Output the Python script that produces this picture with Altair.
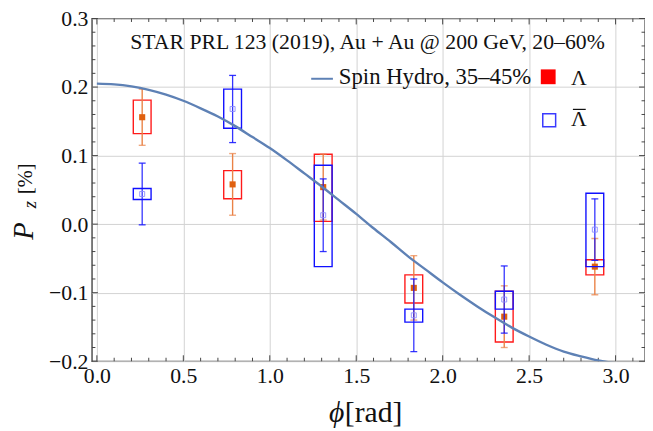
import math
import altair as alt
import pandas as pd

# ---------------- data ----------------
phi = [0.262, 0.785, 1.309, 1.833, 2.356, 2.880]

lam_y = [0.156, 0.058, 0.054, -0.093, -0.135, -0.062]
lam_stat = [0.041, 0.045, 0.048, 0.047, 0.045, 0.041]
lam_sys_lo = [0.132, 0.037, 0.004, -0.115, -0.172, -0.074]
lam_sys_hi = [0.181, 0.078, 0.102, -0.074, -0.098, -0.052]

alam_y = [0.044, 0.168, 0.013, -0.133, -0.110, -0.008]
alam_stat = [0.045, 0.049, 0.053, 0.053, 0.049, 0.045]
alam_sys_lo = [0.036, 0.140, -0.062, -0.143, -0.124, -0.062]
alam_sys_hi = [0.052, 0.197, 0.086, -0.124, -0.098, 0.045]

curve_x = [0.0, 0.1, 0.2, 0.3, 0.4, 0.5, 0.6, 0.7, 0.8, 0.9, 1.0, 1.1, 1.2, 1.3,
           1.4, 1.5, 1.6, 1.7, 1.8, 1.9, 2.0, 2.1, 2.2, 2.3, 2.4, 2.5, 2.6, 2.7,
           2.8, 2.9, 3.0, 3.1, 3.1416]
curve_y = [0.205, 0.204, 0.201, 0.196, 0.189, 0.180, 0.169, 0.157, 0.143, 0.127,
           0.111, 0.093, 0.074, 0.055, 0.035, 0.015, -0.006, -0.026, -0.047, -0.066,
           -0.085, -0.103, -0.120, -0.136, -0.151, -0.164, -0.176, -0.186, -0.193,
           -0.199, -0.203, -0.205, -0.205]

x_major = [0.0, 0.5, 1.0, 1.5, 2.0, 2.5, 3.0]
x_minor = [0.1, 0.2, 0.3, 0.4, 0.6, 0.7, 0.8, 0.9, 1.1, 1.2, 1.3, 1.4, 1.6, 1.7,
           1.8, 1.9, 2.1, 2.2, 2.3, 2.4, 2.6, 2.7, 2.8, 2.9, 3.1]
y_major = [-0.2, -0.1, 0.0, 0.1, 0.2, 0.3]
y_minor = [-0.18, -0.16, -0.14, -0.12, -0.08, -0.06, -0.04, -0.02,
           0.02, 0.04, 0.06, 0.08, 0.12, 0.14, 0.16, 0.18, 0.22, 0.24, 0.26, 0.28]

title_text = "STAR PRL 123 (2019), Au + Au @ 200 GeV, 20–60%"
curve_label = "Spin Hydro, 35–45%"
lam_label = "Λ"

# ---------------- tables ----------------
lam = pd.DataFrame({"phi": phi, "y": lam_y, "lo": lam_sys_lo, "hi": lam_sys_hi,
                    "elo": [a - b for a, b in zip(lam_y, lam_stat)],
                    "ehi": [a + b for a, b in zip(lam_y, lam_stat)]})
alam = pd.DataFrame({"phi": phi, "y": alam_y, "lo": alam_sys_lo, "hi": alam_sys_hi,
                     "elo": [a - b for a, b in zip(alam_y, alam_stat)],
                     "ehi": [a + b for a, b in zip(alam_y, alam_stat)]})
lam_caps = pd.DataFrame({"phi": phi + phi, "y": list(lam.elo) + list(lam.ehi)})
alam_caps = pd.DataFrame({"phi": phi + phi, "y": list(alam.elo) + list(alam.ehi)})
curve = pd.DataFrame({"phi": curve_x, "y": curve_y})
one = pd.DataFrame({"k": [0]})

W, H = 560, 347
FONT = "Liberation Serif"
FRAME = "#444444"

xs = alt.Scale(domain=[0, math.pi], nice=False, zero=False)
ys = alt.Scale(domain=[-0.2, 0.3], nice=False, zero=False)

x_lab = alt.Axis(orient="bottom", values=x_major, format=".1f", grid=True,
                 gridColor="#d2d2d2", gridWidth=1, ticks=False, domain=False,
                 labelFont=FONT, labelFontSize=22, labelColor="#111111",
                 labelPadding=5, labelFlush=False, labelOverlap=False, title=None)
y_lab = alt.Axis(orient="left", values=y_major, format=".1f", grid=True,
                 gridColor="#d2d2d2", gridWidth=1, ticks=False, domain=False,
                 labelFont=FONT, labelFontSize=22, labelColor="#111111",
                 labelPadding=4, labelFlush=False, labelOverlap=False, title=None)


def X(field, axis=None):
    return alt.X(field, type="quantitative", scale=xs, axis=axis)


def Y(field, axis=None):
    return alt.Y(field, type="quantitative", scale=ys, axis=axis)


RED = "#ff1a1a"
ORANGE_BAR = "#ea8246"
ORANGE = "#e0600f"
BLUE = "#1010ff"
LBLUE = "#8c8cff"

red_box = alt.Chart(lam).mark_bar(width=18, fillOpacity=0, stroke=RED, strokeWidth=1.4).encode(
    x=X("phi"), y=Y("lo"), y2="hi")
red_err = alt.Chart(lam).mark_rule(color=ORANGE_BAR, strokeWidth=1.4).encode(
    x=X("phi"), y=Y("elo"), y2="ehi")
red_cap = alt.Chart(lam_caps).mark_tick(orient="horizontal", size=7, thickness=1.4,
                                        color=ORANGE_BAR).encode(x=X("phi"), y=Y("y"))
red_pt = alt.Chart(lam).mark_square(size=38, color=ORANGE, opacity=1).encode(
    x=X("phi"), y=Y("y"))

blue_box = alt.Chart(alam).mark_bar(width=18, fillOpacity=0, stroke=BLUE, strokeWidth=1.4).encode(
    x=X("phi"), y=Y("lo"), y2="hi")
blue_err = alt.Chart(alam).mark_rule(color=BLUE, strokeWidth=1.3, opacity=0.85).encode(
    x=X("phi"), y=Y("elo"), y2="ehi")
blue_cap = alt.Chart(alam_caps).mark_tick(orient="horizontal", size=7, thickness=1.3,
                                          color=BLUE, opacity=0.85).encode(
    x=X("phi"), y=Y("y"))
blue_pt = alt.Chart(alam).mark_square(size=25, filled=False, color=LBLUE, strokeWidth=1,
                                      opacity=0.9).encode(x=X("phi"), y=Y("y"))

line = alt.Chart(curve).mark_line(color="#5e81b5", strokeWidth=2.4, clip=True,
                                  interpolate="monotone").encode(
    x=X("phi", x_lab), y=Y("y", y_lab))


# inward frame ticks (Mathematica style), positioned through the scales
def xticks(values, length, top):
    y0, y1 = (0, length) if top else (H, H - length)
    return alt.Chart(pd.DataFrame({"t": values})).mark_rule(
        color=FRAME, strokeWidth=1).encode(x=X("t"), y=alt.value(y0), y2=alt.value(y1))


def yticks(values, length, right):
    x0, x1 = (W, W - length) if right else (0, length)
    return alt.Chart(pd.DataFrame({"t": values})).mark_rule(
        color=FRAME, strokeWidth=1).encode(y=Y("t"), x=alt.value(x0), x2=alt.value(x1))


tick_layers = [
    xticks(x_major, 6, False), xticks(x_minor, 3.5, False),
    xticks(x_major, 6, True), xticks(x_minor, 3.5, True),
    yticks(y_major, 6, False), yticks(y_minor, 3.5, False),
    yticks(y_major, 6, True), yticks(y_minor, 3.5, True),
]


def label(text, x, y, size, align="left", style="normal", angle=0, baseline="alphabetic"):
    return alt.Chart(one).mark_text(text=text, font=FONT, fontSize=size, fontStyle=style,
                                    align=align, baseline=baseline, angle=angle,
                                    color="#111111").encode(x=alt.value(x), y=alt.value(y))


texts = [
    label(title_text, 279, 31, 22, align="center"),
    label(curve_label, 250, 66, 23),
    label(lam_label, 493, 67, 22, align="center"),
    label(lam_label, 493, 109, 22, align="center"),
    label("ϕ", 240, 409, 30, style="italic"),
    label("[rad]", 256, 409, 30),
    label("P", -60, 224, 29, style="italic", angle=270),
    label("z", -57, 192, 19, style="italic", angle=270),
    label("[%]", -61, 178, 21, angle=270),
]

leg_line = alt.Chart(one).mark_rule(color="#5e81b5", strokeWidth=2).encode(
    x=alt.value(222), x2=alt.value(244), y=alt.value(61))
leg_red = alt.Chart(one).mark_square(size=225, color="#ff0000", opacity=1).encode(
    x=alt.value(462), y=alt.value(59))
leg_blue = alt.Chart(one).mark_square(size=170, filled=False, color="#3a3aff",
                                      strokeWidth=1.5, opacity=1).encode(
    x=alt.value(463), y=alt.value(103))
overbar = alt.Chart(one).mark_rule(color="#111111", strokeWidth=1.2).encode(
    x=alt.value(487), x2=alt.value(500), y=alt.value(92))

chart = alt.layer(
    *tick_layers,
    red_box, red_err, red_cap, red_pt,
    blue_box, blue_err, blue_cap, blue_pt,
    line, leg_line, leg_red, leg_blue, overbar, *texts
).resolve_axis(x="independent", y="independent").properties(
    width=W, height=H,
    padding={"left": 85, "top": 8, "right": 0, "bottom": 68},
    autosize=alt.AutoSizeParams(type="none"),
).configure_view(stroke=FRAME, strokeWidth=1.4)

chart.save("out.html", embed_options={"renderer": "svg", "actions": False})
